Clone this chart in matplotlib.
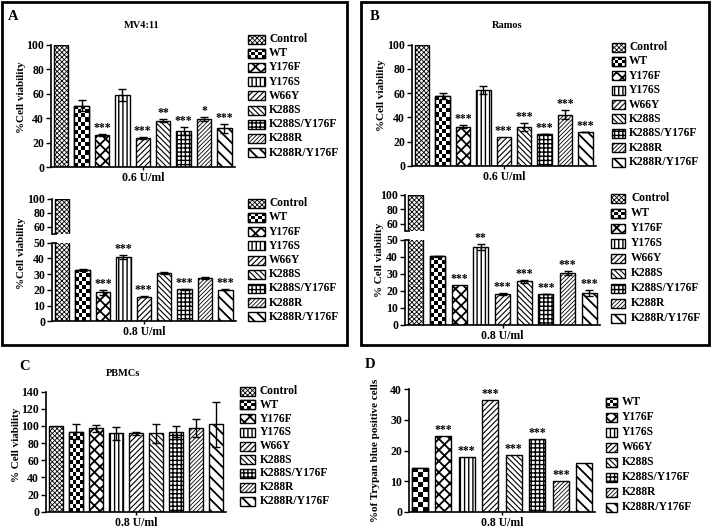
import matplotlib
matplotlib.use("Agg")
import matplotlib.pyplot as plt
from matplotlib.patches import Rectangle
import numpy as np

plt.rcParams['font.family'] = 'serif'
plt.rcParams['font.serif'] = ['Liberation Serif', 'DejaVu Serif']
plt.rcParams['font.weight'] = 'bold'
plt.rcParams['hatch.linewidth'] = 0.9

labels = ["Control", "WT", "Y176F", "Y176S", "W66Y", "K288S",
          "K288S/Y176F", "K288R", "K288R/Y176F"]

# MV4:11
mv4_06 = [100, 50.3, 26.6, 59.0, 23.9, 38.0, 29.9, 39.1, 31.8]
mv4_06_err = [0, 4.6, 0.7, 5.0, 1.0, 1.2, 3.3, 1.7, 3.8]
mv4_06_sig = ["", "", "***", "", "***", "**", "***", "*", "***"]
mv4_08 = [100, 32.8, 18.4, 40.7, 15.7, 30.7, 20.3, 27.5, 20.1]
mv4_08_err = [0, 0.5, 1.5, 1.3, 0.5, 0.5, 0.4, 0.7, 0.2]
mv4_08_sig = ["", "", "***", "***", "***", "", "***", "", "***"]

# Ramos
ramos_06 = [100, 57.7, 32.4, 62.6, 24.2, 31.9, 26.4, 42.3, 28.0]
ramos_06_err = [0, 2.2, 1.1, 3.3, 0, 3.3, 0.3, 3.8, 0.3]
ramos_06_sig = ["", "", "***", "", "***", "***", "***", "***", "***"]
ramos_08 = [100, 40.4, 23.1, 45.9, 18.0, 25.5, 18.0, 30.4, 18.4]
ramos_08_err = [0, 0.3, 0, 1.8, 0.8, 0.9, 0.2, 1.0, 1.8]
ramos_08_sig = ["", "", "***", "**", "***", "***", "***", "***", "***"]

# PBMCs
pbmc = [100, 93.3, 97.2, 91.4, 91.4, 91.4, 93.3, 97.2, 101.9]
pbmc_err = [0, 8.5, 4.0, 8.0, 2.0, 11.3, 6.2, 10.5, 26.5]

# Trypan blue
trypan_labels = labels[1:]
trypan = [14.4, 24.6, 17.8, 36.5, 18.4, 23.8, 10.2, 16.0]
trypan_sig = ["", "***", "***", "***", "***", "***", "***", ""]

HATCH = {"Control": "xxxxxxx", "WT": None, "Y176F": "xxx", "Y176S": "||||",
         "W66Y": "//////", "K288S": "\\\\\\\\\\\\", "K288S/Y176F": "++++",
         "K288R": "////////", "K288R/Y176F": "\\\\\\"}
HATCH_LW = {"Control": 0.6, "WT": 1.0, "Y176F": 1.3, "Y176S": 1.0,
            "W66Y": 0.8, "K288S": 0.8, "K288S/Y176F": 1.0,
            "K288R": 0.6, "K288R/Y176F": 1.3}

W, H = 713, 530
fig = plt.figure(figsize=(W / 100, H / 100), dpi=100)


def px_axes(l, t, r, b):
    ax = fig.add_axes([l / W, 1 - b / H, (r - l) / W, (b - t) / H])
    ax.set_facecolor('none')
    return ax


def set_hlw(p, name):
    if hasattr(p, 'set_hatch_linewidth'):
        p.set_hatch_linewidth(HATCH_LW[name])


def checker(ax, patch, cell):
    x0, y0 = patch.get_x(), patch.get_y()
    x1, y1 = x0 + patch.get_width(), y0 + patch.get_height()
    p0 = ax.transData.transform((x0, y0))
    p1 = ax.transData.transform((x1, y1))
    nx = max(1, int(round(abs(p1[0] - p0[0]) / cell)))
    ny = max(1, int(round(abs(p1[1] - p0[1]) / cell)))
    img = np.indices((ny, nx)).sum(axis=0) % 2
    im = ax.imshow(img, extent=(x0, x1, y0, y1), cmap='gray', vmin=0, vmax=1,
                   origin='lower', aspect='auto', interpolation='nearest',
                   zorder=patch.get_zorder() + 0.05)
    im.set_clip_path(patch)


def draw_bars(ax, names, vals, errs=None, sig=None, width=0.7, cell=4):
    x = np.arange(len(vals))
    ymin = ax.get_ylim()[0]
    for i, (name, v) in enumerate(zip(names, vals)):
        if v <= ymin:
            continue
        with plt.rc_context({'hatch.linewidth': HATCH_LW[name]}):
            b = ax.bar(x[i], v, width, color='white', edgecolor='black',
                       linewidth=1, hatch=HATCH[name], zorder=2)[0]
        set_hlw(b, name)
        if HATCH[name] is None:
            checker(ax, b, cell)
            ax.bar(x[i], v, width, fill=False, edgecolor='black',
                   linewidth=1, zorder=2.2)
    if errs is not None:
        e = np.array(errs)
        m = e > 0
        ax.errorbar(x[m], np.array(vals)[m], yerr=e[m], fmt='none',
                    ecolor='black', elinewidth=1, capsize=3, capthick=1,
                    zorder=3)
    if sig is not None:
        top = np.array(vals) + (np.array(errs) if errs is not None else 0)
        for i, s in enumerate(sig):
            if s:
                ax.annotate(s, (x[i], top[i]), xytext=(0, 0),
                            textcoords='offset points', ha='center',
                            va='bottom', fontsize=8.5, fontweight='bold')


def style(ax, yticks, xlabel, n):
    ax.spines['top'].set_visible(False)
    ax.spines['right'].set_visible(False)
    for s in ('left', 'bottom'):
        ax.spines[s].set_linewidth(1.2)
    ax.set_yticks(yticks)
    ax.set_xticks([(n - 1) / 2])
    ax.set_xticklabels([xlabel])
    ax.tick_params(labelsize=8.5, width=1, length=3.5, pad=1.5)
    ax.tick_params(axis='x', length=2.5, pad=1)
    for t in ax.get_xticklabels() + ax.get_yticklabels():
        t.set_fontweight('bold')


def simple_panel(box, vals, errs, sig, names, ylim, yticks, xlabel, width=0.7, cell=4):
    ax = px_axes(*box)
    n = len(vals)
    pad = 0.5 if n == 9 else 0.45
    ax.set_xlim(-pad, n - 1 + pad)
    ax.set_ylim(*ylim)
    draw_bars(ax, names, vals, errs, sig, width, cell)
    style(ax, yticks, xlabel, n)
    return ax


def broken_panel(up_box, low_box, vals, errs, sig, xlabel):
    n = len(vals)
    up = px_axes(*up_box)
    low = px_axes(*low_box)
    for ax in (up, low):
        ax.set_xlim(-0.5, n - 0.5)
    up.set_ylim(50, 100)
    low.set_ylim(0, 50)
    draw_bars(up, labels, vals, None, None)
    draw_bars(low, labels, vals, errs, sig)
    style(low, np.arange(0, 51, 10), xlabel, n)
    up.spines['top'].set_visible(False)
    up.spines['right'].set_visible(False)
    up.spines['bottom'].set_visible(False)
    up.spines['left'].set_linewidth(1.2)
    up.set_xticks([])
    up.set_yticks([60, 80, 100])
    up.tick_params(labelsize=8.5, width=1, length=3.5, pad=1.5)
    for t in up.get_yticklabels():
        t.set_fontweight('bold')
    # break stubs
    up.plot([0, 0.025], [0, 0], transform=up.transAxes, color='black',
            lw=1.2, clip_on=False, solid_capstyle='butt')
    low.plot([0, 0.025], [1, 1], transform=low.transAxes, color='black',
             lw=1.2, clip_on=False, solid_capstyle='butt')


# Panel A
simple_panel((51, 44.7, 234.6, 167.3), mv4_06, mv4_06_err, mv4_06_sig, labels,
             (0, 100), np.arange(0, 101, 20), "0.6 U/ml")
broken_panel((52, 198.7, 235.6, 233.7), (52, 242.7, 235.6, 321.3),
             mv4_08, mv4_08_err, mv4_08_sig, "0.8 U/ml")

# Panel B
simple_panel((412, 44.7, 595.6, 166), ramos_06, ramos_06_err, ramos_06_sig, labels,
             (0, 100), np.arange(0, 101, 20), "0.6 U/ml")
broken_panel((405, 194.7, 600, 230.7), (405, 239.7, 600, 324.7),
             ramos_08, ramos_08_err, ramos_08_sig, "0.8 U/ml")

# Panel C
simple_panel((46, 391.7, 226.5, 511.7), pbmc, pbmc_err, None, labels,
             (0, 140), np.arange(0, 141, 20), "0.8 U/ml")

# Panel D
simple_panel((409, 389, 595, 512), trypan, None, trypan_sig, trypan_labels,
             (0, 40), np.arange(0, 41, 10), "0.8 U/ml", width=0.68, cell=5)

# overlay for frames, legends and text
ov = fig.add_axes([0, 0, 1, 1], zorder=-1)
ov.set_xlim(0, W)
ov.set_ylim(H, 0)
ov.axis('off')
ov.add_patch(Rectangle((2, 2), 345, 343, fill=False, lw=2, edgecolor='black'))
ov.add_patch(Rectangle((361, 2), 348, 343, fill=False, lw=2, edgecolor='black'))


def legend(names, l, r, tx, y0, y1):
    ys = np.linspace(y0, y1, len(names))
    for name, y in zip(names, ys):
        with plt.rc_context({'hatch.linewidth': HATCH_LW[name]}):
            p = Rectangle((l, y - 4.5), r - l, 9, facecolor='white',
                          edgecolor='black', lw=1, hatch=HATCH[name], zorder=2)
        set_hlw(p, name)
        ov.add_patch(p)
        if HATCH[name] is None:
            checker(ov, p, 3.5)
            ov.add_patch(Rectangle((l, y - 4.5), r - l, 9, fill=False,
                                   edgecolor='black', lw=1, zorder=2.2))
        ov.text(tx, y, name, va='center', ha='left', fontsize=8.3,
                fontweight='bold')


legend(labels, 248, 265, 269, 39, 152.7)
legend(labels, 248, 265, 269, 203.3, 316.7)
legend(labels, 612, 625, 629, 47, 162)
legend(labels, 611, 625, 631, 198.3, 318.3)
legend(labels, 240, 255, 260, 391, 501)
legend(trypan_labels, 606, 617, 622, 402, 507)
ov.set_xlim(0, W)
ov.set_ylim(H, 0)

for txt, x, y in [("A", 13, 17), ("B", 375, 17), ("C", 25, 367), ("D", 370, 365)]:
    ov.text(x, y, txt, fontsize=10.5, fontweight='bold', ha='center', va='center')
for txt, x, y in [("MV4:11", 142, 25), ("Ramos", 507, 25), ("PBMCs", 123, 373)]:
    ov.text(x, y, txt, fontsize=7.5, fontweight='bold', ha='center', va='center')
for txt, x, y in [("%Cell viability", 21, 97), ("%Cell viability", 21, 253),
                  ("%Cell viability", 382, 95), ("% Cell viability", 380, 260),
                  ("% Cell viability", 17, 445),
                  ("%of Trypan blue positive cells", 376, 450)]:
    ov.text(x, y, txt, fontsize=8, fontweight='bold', rotation=90,
            ha='center', va='center')

fig.savefig("out.png", dpi=100)
